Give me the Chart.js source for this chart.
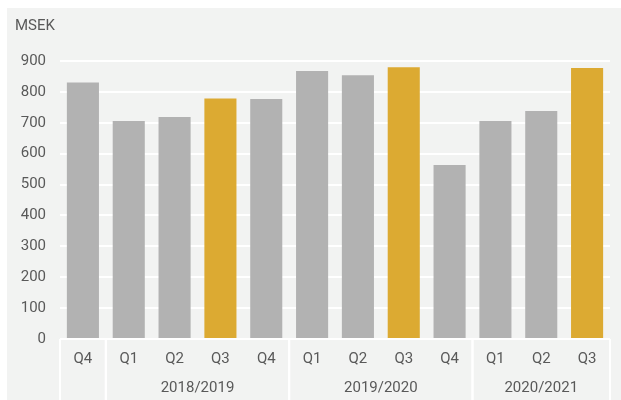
<!DOCTYPE html>
<html>
<head>
<meta charset="utf-8">
<script src="https://cdn.jsdelivr.net/npm/chart.js@4"></script>
<style>
  body { margin: 0; background: #ffffff; }
  #wrap { position: absolute; left: 7px; top: 8px; width: 614px; height: 392px; background: #f2f3f2; }
</style>
</head>
<body>
<div id="wrap"><canvas id="chart"></canvas></div>
<script>
// kvartal och år
const quarters = ['Q4', 'Q1', 'Q2', 'Q3', 'Q4', 'Q1', 'Q2', 'Q3', 'Q4', 'Q1', 'Q2', 'Q3'];
const values = [830, 706, 719, 779, 777, 868, 854, 880, 563, 706, 738, 877];
const highlight = [false, false, false, true, false, false, false, true, false, false, false, true];
// grupper: [etikett, första index, sista index]
const yearGroups = [['', 0, 0], ['2018/2019', 1, 4], ['2019/2020', 5, 8], ['2020/2021', 9, 11]];
const yTicks = [0, 100, 200, 300, 400, 500, 600, 700, 800, 900];

const textColor = '#595959';
const font = { family: 'Roboto', size: 15 };

// ritar grupplinjer och årsetiketter under x-axeln
const yearPlugin = {
    id: 'yearPlugin',
    afterDraw(chart) {
        const ctx = chart.ctx;
        const x = chart.scales.x;
        const area = chart.chartArea;
        const half = (x.getPixelForValue(1) - x.getPixelForValue(0)) / 2;
        ctx.save();
        ctx.strokeStyle = '#ffffff';
        ctx.lineWidth = 2;
        yearGroups.forEach(g => {
            const left = x.getPixelForValue(g[1]) - half;
            const right = x.getPixelForValue(g[2]) + half;
            [left, right].forEach(px => {
                ctx.beginPath();
                ctx.moveTo(px, area.bottom);
                ctx.lineTo(px, chart.height);
                ctx.stroke();
            });
            ctx.fillStyle = textColor;
            ctx.font = '15px Roboto';
            ctx.textAlign = 'center';
            ctx.textBaseline = 'middle';
            ctx.fillText(g[0], (left + right) / 2, area.bottom + 49);
        });
        // enhetsetikett
        ctx.textAlign = 'left';
        ctx.fillText('MSEK', 8, 18);
        ctx.restore();
    }
};

new Chart(document.getElementById('chart'), {
    type: 'bar',
    data: {
        labels: quarters,
        datasets: [{
            data: values,
            backgroundColor: highlight.map(h => h ? '#dcaa32' : '#b2b2b2'),
            categoryPercentage: 1,
            barPercentage: 0.7
        }]
    },
    options: {
        responsive: true,
        maintainAspectRatio: false,
        animation: false,
        layout: { padding: { top: 53, right: 11, left: 0, bottom: 0 } },
        plugins: { legend: { display: false }, tooltip: { enabled: false } },
        scales: {
            y: {
                min: 0, max: 900,
                afterBuildTicks: s => { s.ticks = yTicks.map(v => ({ value: v })); },
                afterFit: s => { s.width = 53; },
                border: { display: false },
                grid: { color: '#ffffff', lineWidth: 2, drawTicks: false },
                ticks: { color: textColor, font: font, padding: 14 }
            },
            x: {
                afterFit: s => { s.height = 61; },
                border: { display: false },
                grid: { display: false },
                ticks: { color: textColor, font: font, padding: 3 }
            }
        }
    },
    plugins: [yearPlugin]
});
</script>
</body>
</html>
